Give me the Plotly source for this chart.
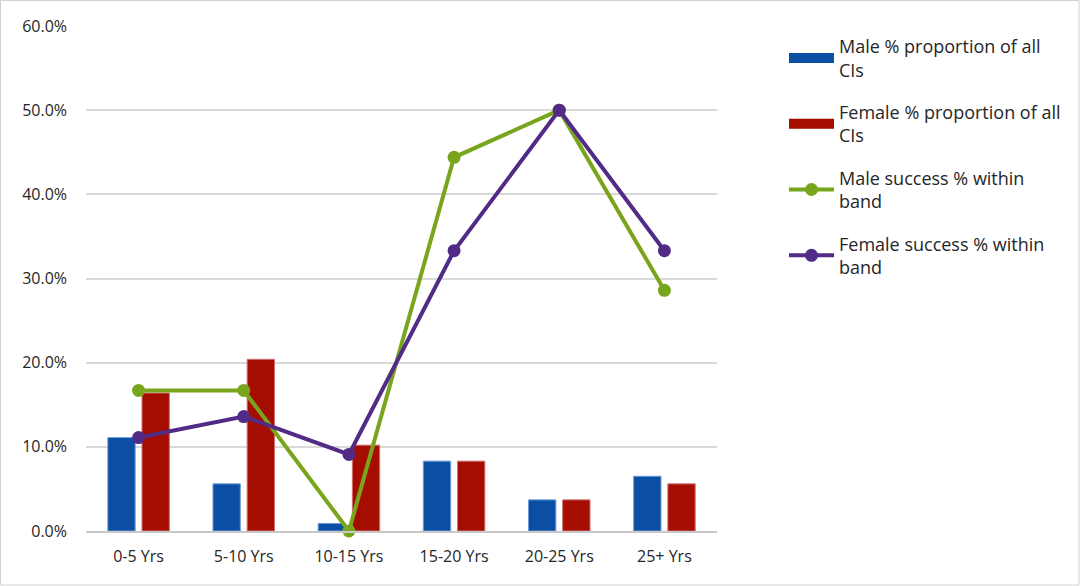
import plotly.graph_objects as go

categories = ["0-5 Yrs", "5-10 Yrs", "10-15 Yrs", "15-20 Yrs", "20-25 Yrs", "25+ Yrs"]
male_prop = [0.111, 0.056, 0.009, 0.083, 0.037, 0.065]
female_prop = [0.164, 0.204, 0.102, 0.083, 0.037, 0.056]
male_success = [0.167, 0.167, 0.0, 0.444, 0.50, 0.286]
female_success = [0.111, 0.136, 0.091, 0.333, 0.50, 0.333]
y_ticks = [0, 0.1, 0.2, 0.3, 0.4, 0.5, 0.6]

names = ["Male % proportion of all<br>CIs", "Female % proportion of all<br>CIs",
         "Male success % within<br>band", "Female success % within<br>band"]
c_male_bar, c_female_bar = "#0A4FA3", "#A50D00"
c_male_line, c_female_line = "#78A51B", "#512B86"

W, H = 1080, 586
L, R, T, B = 86, 363, 26, 55
font = "Open Sans"

fig = go.Figure()
fig.add_trace(go.Bar(x=categories, y=male_prop, name=names[0], showlegend=False,
                     marker=dict(color=c_male_bar, line=dict(color="#6E9BD6", width=1))))
fig.add_trace(go.Bar(x=categories, y=female_prop, name=names[1], showlegend=False,
                     marker=dict(color=c_female_bar, line=dict(color="#D07070", width=1))))
# legend-only entries for the bars (wide swatches like the reference)
fig.add_trace(go.Scatter(x=[None], y=[None], mode="lines", name=names[0],
                         line=dict(color=c_male_bar, width=11), legendgroup="a"))
fig.add_trace(go.Scatter(x=[None], y=[None], mode="lines", name=names[1],
                         line=dict(color=c_female_bar, width=11), legendgroup="b"))
fig.add_trace(go.Scatter(x=categories, y=male_success, name=names[2], cliponaxis=False,
                         mode="lines+markers", line=dict(color=c_male_line, width=4),
                         marker=dict(size=13, color=c_male_line), legendgroup="c"))
fig.add_trace(go.Scatter(x=categories, y=female_success, name=names[3], cliponaxis=False,
                         mode="lines+markers", line=dict(color=c_female_line, width=4),
                         marker=dict(size=13, color=c_female_line), legendgroup="d"))

pw = W - L - R
ph = H - T - B
fig.add_shape(type="rect", xref="paper", yref="paper",
              x0=-(L - 0.5) / pw, x1=(W - L - 1) / pw,
              y0=-(B - 1) / ph, y1=1 + (T - 0.5) / ph,
              line=dict(color="#D0D0D0", width=1), layer="below")

fig.update_layout(
    width=W, height=H,
    margin=dict(l=L, r=R, t=T, b=B),
    paper_bgcolor="white", plot_bgcolor="white",
    barmode="group", bargap=0.35, bargroupgap=0.2,
    font=dict(family=font, size=15, color="#404040"),
    legend=dict(x=(784 - L) / pw, y=1 - (28 - T) / ph, xanchor="left", yanchor="top",
                font=dict(family=font, size=18, color="#262626"),
                traceorder="grouped", tracegroupgap=16, itemwidth=45,
                bgcolor="rgba(0,0,0,0)"),
    xaxis=dict(showgrid=False, showline=True, linecolor="#C8C8C8", linewidth=1.5,
               ticks="", ticklabelstandoff=10, tickfont=dict(size=16, color="#262626")),
    yaxis=dict(range=[0, 0.6], tickvals=y_ticks, tickformat=".1%",
               showgrid=True, gridcolor="#D9D9D9", gridwidth=1.5,
               zeroline=False, showline=False, ticks="", ticklen=0,
               ticklabelstandoff=18,
               tickfont=dict(size=16, color="#262626")),
)

fig.write_html("out.html", config={"displayModeBar": False},
               post_script="document.body.style.margin='0';")
